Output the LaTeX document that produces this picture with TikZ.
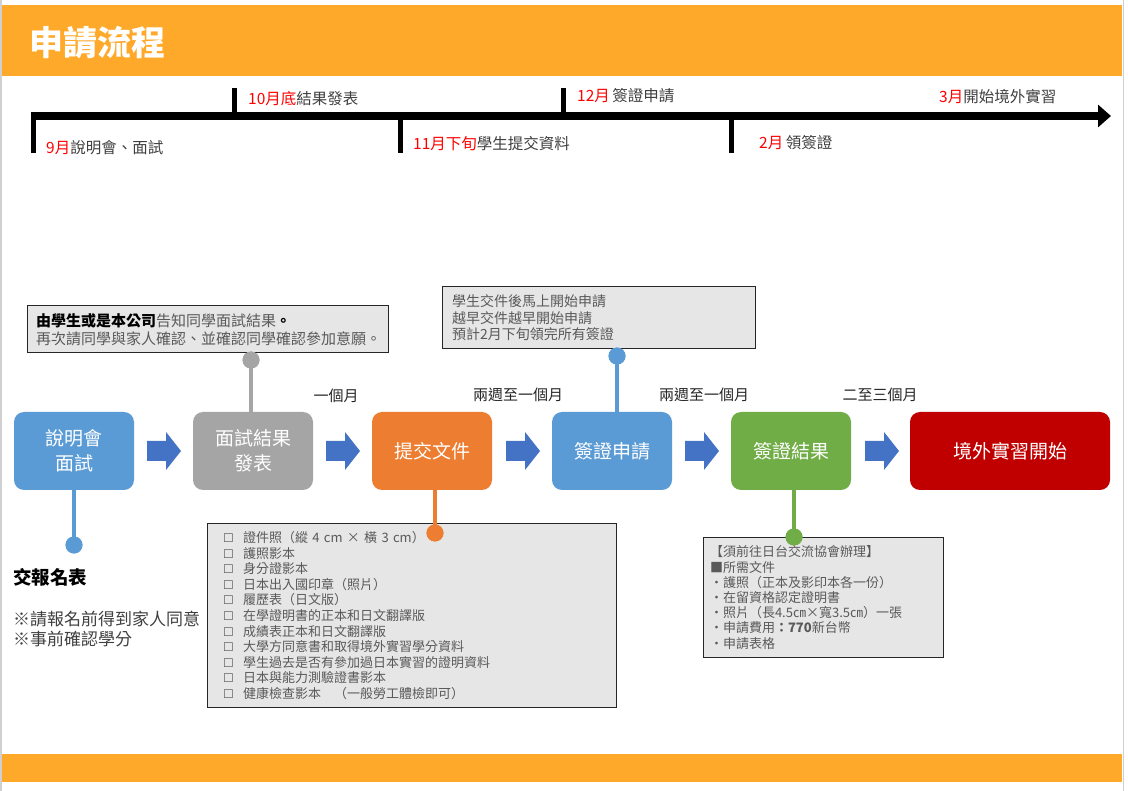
\documentclass[tikz,border=0pt]{standalone}
\usepackage{fontspec}
\setmainfont{Noto Sans CJK TC}
\newfontfamily\symfont{DejaVu Sans}
\usetikzlibrary{calc,arrows.meta}
\definecolor{bandorange}{HTML}{FFA92A}
\definecolor{boxblue}{HTML}{5B9BD5}
\definecolor{boxgray}{HTML}{A5A5A5}
\definecolor{boxorange}{HTML}{ED7D31}
\definecolor{boxgreen}{HTML}{70AD47}
\definecolor{boxred}{HTML}{C00000}
\definecolor{arrowblue}{HTML}{4472C4}
\definecolor{notefill}{HTML}{E6E6E6}
\definecolor{txtgray}{HTML}{404040}
\definecolor{notegray}{HTML}{595959}
\definecolor{monthred}{HTML}{FF0000}
\definecolor{pagegray}{HTML}{D0D0D0}
\newcommand{\fsz}[2]{\fontsize{#1}{#2}\selectfont}
\newcommand{\mon}[1]{\textcolor{monthred}{#1}}
\newcommand{\chk}{\hspace*{7pt}\makebox[20pt][l]{\fsz{12}{12}\symfont\textcolor{notegray}{☐}}}
\tikzset{
  stepbox/.style={rounded corners=10pt, minimum height=78pt, minimum width=120pt, text=white, align=center, font=\fsz{19}{25}, inner sep=0pt},
  notebox/.style={draw=black!85, fill=notefill, line width=1pt, align=left, inner sep=0pt, text=notegray},
  dotnode/.style={circle, minimum size=17pt, inner sep=0pt},
  conn/.style={line width=4pt},
  tickline/.style={line width=5pt, black},
  tllabel/.style={anchor=west, inner sep=0pt, text=txtgray, font=\fsz{15.5}{18}},
  durlabel/.style={inner sep=0pt, text=black!85, font=\fsz{15}{18}},
  blockarrow/.pic={\fill[arrowblue] (0,-10) -- (19,-10) -- (19,-19) -- (34,0) -- (19,19) -- (19,10) -- (0,10) -- cycle;}
}
\begin{document}
\begin{tikzpicture}[x=1pt,y=-1pt]
\useasboundingbox (0,0) rectangle (1128,791);
\fill[white] (0,0) rectangle (1128,791);
\draw[pagegray, line width=1.5pt] (0.75,0) -- (0.75,791);
\draw[pagegray, line width=1.5pt] (1123.5,0) -- (1123.5,791);
% bands
\fill[bandorange] (2,5) rectangle (1122,76);
\fill[bandorange] (2,754) rectangle (1122,782);
\node[anchor=west, inner sep=0pt, text=white, font=\fsz{34}{40}\bfseries] (title) at (29,43) {申請流程};
% timeline
\coordinate (tl0) at (30.5,116);
\coordinate (tl1) at (1111,116);
\draw[line width=8pt, -{Triangle[length=13pt,width=22pt]}] (tl0) -- (tl1);
\coordinate (k1) at (33,116);  \coordinate (k1e) at (33,153);
\coordinate (k2) at (234,116); \coordinate (k2e) at (234,88);
\coordinate (k3) at (400,116); \coordinate (k3e) at (400,153);
\coordinate (k4) at (563,116); \coordinate (k4e) at (563,88);
\coordinate (k5) at (731,116); \coordinate (k5e) at (731,153);
\draw[tickline] (k1) -- (k1e);
\draw[tickline] (k2) -- (k2e);
\draw[tickline] (k3) -- (k3e);
\draw[tickline] (k4) -- (k4e);
\draw[tickline] (k5) -- (k5e);
\node[tllabel] (l1) at (46,148) {\mon{9月}說明會、面試};
\node[tllabel] (l2) at (248,99) {\mon{10月底}結果發表};
\node[tllabel] (l3) at (413,144) {\mon{11月下旬}學生提交資料};
\node[tllabel] (l4) at (577,96) {\mon{12月}\,簽證申請};
\node[tllabel] (l5) at (759,143) {\mon{2月}\,領簽證};
\node[tllabel] (l6) at (939,97) {\mon{3月}開始境外實習};
% step boxes
\node[stepbox, fill=boxblue] (s1) at (74,451) {說明會\\面試};
\node[stepbox, fill=boxgray] (s2) at (253,451) {面試結果\\發表};
\node[stepbox, fill=boxorange] (s3) at (432,451) {提交文件};
\node[stepbox, fill=boxblue] (s4) at (612,451) {簽證申請};
\node[stepbox, fill=boxgreen] (s5) at (791,451) {簽證結果};
\node[stepbox, fill=boxred, minimum width=200pt] (s6) at (1010,451) {境外實習開始};
% block arrows
\pic at (147,451) {blockarrow};
\pic at (326,451) {blockarrow};
\pic at (506,451) {blockarrow};
\pic at (685,451) {blockarrow};
\pic at (865,451) {blockarrow};
% duration labels
\node[durlabel] (d1) at (336,396) {一個月};
\node[durlabel] (d2) at (518,395) {兩週至一個月};
\node[durlabel] (d3) at (704,395) {兩週至一個月};
\node[durlabel] (d4) at (880,395) {二至三個月};
% note boxes
\node[notebox, minimum width=361pt, minimum height=47pt, text width=343pt, font=\fsz{15}{18}] (n1) at (207.5,329.5)
 {\textcolor{black}{\bfseries 由學生或是本公司}告知同學面試結果\textcolor{black}{\bfseries 。}\\再次請同學與家人確認、並確認同學確認參加意願。};
\node[notebox, minimum width=313pt, minimum height=62pt, text width=293pt, font=\fsz{14}{16.5}] (n2) at (598.5,318)
 {學生交件後馬上開始申請\\越早交件越早開始申請\\預計2月下旬領完所有簽證};
\node[notebox, minimum width=409pt, minimum height=183pt, text width=391pt, font=\fsz{13}{15.6}] (n3) at (411.5,615.5)
 {\chk 證件照（縱 4 cm × 橫 3 cm）\\
  \chk 護照影本\\
  \chk 身分證影本\\
  \chk 日本出入國印章（照片）\\
  \chk 履歷表（日文版）\\
  \chk 在學證明書的正本和日文翻譯版\\
  \chk 成績表正本和日文翻譯版\\
  \chk 大學方同意書和取得境外實習學分資料\\
  \chk 學生過去是否有參加過日本實習的證明資料\\
  \chk 日本與能力測驗證書影本\\
  \chk 健康檢查影本\quad（一般勞工體檢即可）};
\node[notebox, minimum width=240pt, minimum height=120pt, text width=226pt, font=\fsz{13}{15.2}] (n4) at (823,597.5)
 {【須前往日台交流協會辦理】\\
  ■所需文件\\
  ・護照（正本及影印本各一份）\\
  ・在留資格認定證明書\\
  ・照片（長4.5㎝×寬3.5㎝）一張\\
  ・申請費用\textbf{：770}新台幣\\
  ・申請表格};
% bottom-left texts
\node[anchor=west, inner sep=0pt, font=\fsz{18.5}{20}\bfseries] (t1) at (13,577) {交報名表};
\node[anchor=north west, inner sep=0pt, align=left, text=txtgray, font=\fsz{17}{20}] (t2) at (13,611) {※請報名前得到家人同意\\※事前確認學分};
% connectors and dots
\node[dotnode, fill=boxgray] (dG) at (251,360) {};
\node[dotnode, fill=boxblue] (dB) at (617,356) {};
\node[dotnode, fill=boxblue] (dL) at (74,545) {};
\node[dotnode, fill=boxorange] (dO) at (435,533) {};
\node[dotnode, fill=boxgreen] (dGr) at (794,537) {};
\draw[conn, boxgray] (dG.center) -- (dG |- s2.north);
\draw[conn, boxblue] (dB.center) -- (dB |- s4.north);
\draw[conn, boxblue] (dL |- s1.south) -- (dL.center);
\draw[conn, boxorange] (dO |- s3.south) -- (dO.center);
\draw[conn, boxgreen] (dGr |- s5.south) -- (dGr.center);
\node[dotnode, fill=boxgray] at (dG) {};
\node[dotnode, fill=boxblue] at (dB) {};
\node[dotnode, fill=boxblue] at (dL) {};
\node[dotnode, fill=boxorange] at (dO) {};
\node[dotnode, fill=boxgreen] at (dGr) {};
\end{tikzpicture}
\end{document}
